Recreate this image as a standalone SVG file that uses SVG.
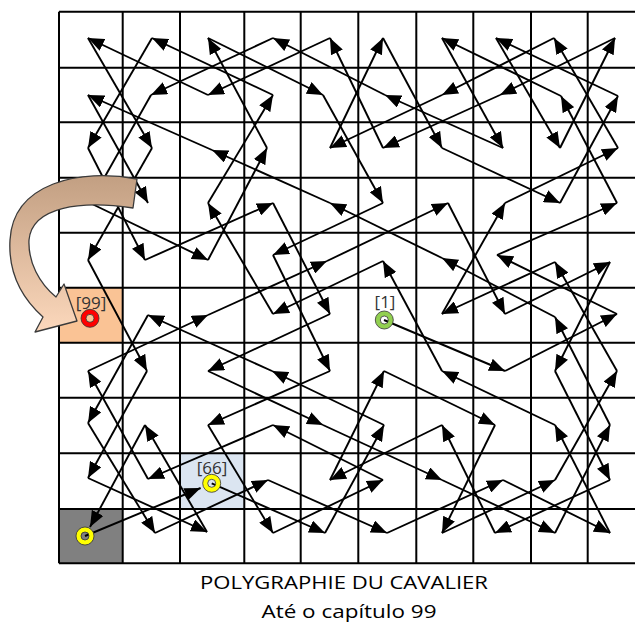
<svg xmlns="http://www.w3.org/2000/svg" width="635" height="625" viewBox="0 0 635 625">
<style>
.g{stroke:#000;stroke-width:2;fill:none}
.a{stroke:#000;stroke-width:1.9;fill:none;marker-end:url(#ah)}
.ring{stroke:#333;stroke-width:0.8;fill-rule:evenodd}
.lbl{font-family:"Open Sans","Liberation Sans",sans-serif;font-size:17px;fill:#333;text-anchor:middle}
.ttl{font-family:"Open Sans","Liberation Sans",sans-serif;font-size:19px;fill:#000;text-anchor:middle}
</style>
<defs>
<marker id="ah" viewBox="0 0 16 13" markerWidth="16" markerHeight="13" refX="16" refY="6.5" orient="auto" markerUnits="userSpaceOnUse">
<path d="M0,0 L16,6.5 L0,13 z" fill="#000"/>
</marker>
<linearGradient id="bg" gradientUnits="userSpaceOnUse" x1="0" y1="178" x2="0" y2="335">
<stop offset="0" stop-color="#c3a083"/>
<stop offset="1" stop-color="#fdd9bd"/>
</linearGradient>
</defs>
<rect width="635" height="625" fill="#fff"/>
<g id="cells">
<rect x="59" y="287.7" width="63.7" height="55" fill="#fac395"/>
<rect x="180" y="453.3" width="64.3" height="55.7" fill="#dbe5f1"/>
<rect x="59" y="509" width="63.7" height="54.3" fill="#808080"/>
</g>
<g id="grid" class="g">
<path d="M59,11.7V563.3M122.7,11.7V563.3M180,11.7V563.3M244.3,11.7V563.3M300.7,11.7V563.3M358.3,11.7V563.3M416.3,11.7V563.3M473.3,11.7V563.3M531,11.7V563.3M587.7,11.7V563.3"/>
<path d="M59,11.7H635M59,67.7H635M59,122.3H635M59,177.7H635M59,232.7H635M59,287.7H635M59,342.7H635M59,397.7H635M59,453.3H635M59,509H635M59,563.3H635"/>
</g>
<g id="connectors">
<line class="a" x1="384" y1="320" x2="505" y2="371"/>
<line class="a" x1="505" y1="371" x2="617" y2="314"/>
<line class="a" x1="617" y1="314" x2="497" y2="255"/>
<line class="a" x1="497" y1="255" x2="617" y2="203"/>
<line class="a" x1="617" y1="203" x2="561" y2="96"/>
<line class="a" x1="561" y1="96" x2="442" y2="38"/>
<line class="a" x1="442" y1="38" x2="503" y2="148"/>
<line class="a" x1="503" y1="148" x2="385" y2="95"/>
<line class="a" x1="385" y1="95" x2="273" y2="38"/>
<line class="a" x1="273" y1="38" x2="151" y2="95"/>
<line class="a" x1="151" y1="95" x2="90" y2="203"/>
<line class="a" x1="90" y1="203" x2="208" y2="260"/>
<line class="a" x1="208" y1="260" x2="267" y2="148"/>
<line class="a" x1="267" y1="148" x2="208" y2="38"/>
<line class="a" x1="208" y1="38" x2="323" y2="95"/>
<line class="a" x1="323" y1="95" x2="383" y2="203"/>
<line class="a" x1="383" y1="203" x2="273" y2="255"/>
<line class="a" x1="273" y1="255" x2="330" y2="371"/>
<line class="a" x1="330" y1="371" x2="208" y2="425"/>
<line class="a" x1="208" y1="425" x2="273" y2="533"/>
<line class="a" x1="273" y1="533" x2="383" y2="480"/>
<line class="a" x1="383" y1="480" x2="273" y2="425"/>
<line class="a" x1="273" y1="425" x2="148" y2="479"/>
<line class="a" x1="148" y1="479" x2="88" y2="371"/>
<line class="a" x1="88" y1="371" x2="208" y2="315"/>
<line class="a" x1="208" y1="315" x2="327" y2="261"/>
<line class="a" x1="327" y1="261" x2="448" y2="203"/>
<line class="a" x1="448" y1="203" x2="505" y2="314"/>
<line class="a" x1="505" y1="314" x2="610" y2="262"/>
<line class="a" x1="610" y1="262" x2="555" y2="371"/>
<line class="a" x1="555" y1="371" x2="610" y2="480"/>
<line class="a" x1="610" y1="480" x2="495" y2="533"/>
<line class="a" x1="495" y1="533" x2="442" y2="425"/>
<line class="a" x1="442" y1="425" x2="330" y2="480"/>
<line class="a" x1="330" y1="480" x2="384" y2="371"/>
<line class="a" x1="384" y1="371" x2="495" y2="425"/>
<line class="a" x1="495" y1="425" x2="442" y2="533"/>
<line class="a" x1="442" y1="533" x2="555" y2="480"/>
<line class="a" x1="555" y1="480" x2="617" y2="371"/>
<line class="a" x1="617" y1="371" x2="555" y2="262"/>
<line class="a" x1="555" y1="262" x2="442" y2="314"/>
<line class="a" x1="442" y1="314" x2="505" y2="203"/>
<line class="a" x1="505" y1="203" x2="618" y2="148"/>
<line class="a" x1="618" y1="148" x2="554" y2="38"/>
<line class="a" x1="554" y1="38" x2="442" y2="95"/>
<line class="a" x1="442" y1="95" x2="330" y2="148"/>
<line class="a" x1="330" y1="148" x2="383" y2="38"/>
<line class="a" x1="383" y1="38" x2="442" y2="148"/>
<line class="a" x1="442" y1="148" x2="560" y2="203"/>
<line class="a" x1="560" y1="203" x2="618" y2="96"/>
<line class="a" x1="618" y1="96" x2="496" y2="38"/>
<line class="a" x1="496" y1="38" x2="560" y2="148"/>
<line class="a" x1="560" y1="148" x2="615" y2="38"/>
<line class="a" x1="615" y1="38" x2="500" y2="95"/>
<line class="a" x1="500" y1="95" x2="383" y2="148"/>
<line class="a" x1="383" y1="148" x2="330" y2="38"/>
<line class="a" x1="330" y1="38" x2="208" y2="95"/>
<line class="a" x1="208" y1="95" x2="88" y2="38"/>
<line class="a" x1="88" y1="38" x2="152" y2="148"/>
<line class="a" x1="152" y1="148" x2="88" y2="260"/>
<line class="a" x1="88" y1="260" x2="147" y2="371"/>
<line class="a" x1="147" y1="371" x2="88" y2="478"/>
<line class="a" x1="88" y1="478" x2="207" y2="532"/>
<line class="a" x1="207" y1="532" x2="145" y2="425"/>
<line class="a" x1="145" y1="425" x2="90" y2="527"/>
<line class="a" x1="85" y1="536" x2="200.6" y2="488"/>
<line class="a" x1="211.7" y1="483.3" x2="325" y2="533"/>
<line class="a" x1="325" y1="533" x2="384" y2="425"/>
<line class="a" x1="384" y1="425" x2="272" y2="371"/>
<line class="a" x1="272" y1="371" x2="148" y2="315"/>
<line class="a" x1="148" y1="315" x2="88" y2="423"/>
<line class="a" x1="88" y1="423" x2="155" y2="533"/>
<line class="a" x1="155" y1="533" x2="268" y2="480"/>
<line class="a" x1="268" y1="480" x2="387" y2="533"/>
<line class="a" x1="387" y1="533" x2="503" y2="480"/>
<line class="a" x1="503" y1="480" x2="610" y2="533"/>
<line class="a" x1="610" y1="533" x2="555" y2="425"/>
<line class="a" x1="555" y1="425" x2="442" y2="371"/>
<line class="a" x1="442" y1="371" x2="383" y2="261"/>
<line class="a" x1="383" y1="261" x2="273" y2="314"/>
<line class="a" x1="273" y1="314" x2="208" y2="203"/>
<line class="a" x1="208" y1="203" x2="273" y2="95"/>
<line class="a" x1="273" y1="95" x2="152" y2="38"/>
<line class="a" x1="152" y1="38" x2="88" y2="148"/>
<line class="a" x1="88" y1="148" x2="145" y2="260"/>
<line class="a" x1="145" y1="260" x2="273" y2="203"/>
<line class="a" x1="273" y1="203" x2="330" y2="314"/>
<line class="a" x1="330" y1="314" x2="208" y2="371"/>
<line class="a" x1="208" y1="371" x2="323" y2="425"/>
<line class="a" x1="323" y1="425" x2="442" y2="480"/>
<line class="a" x1="442" y1="480" x2="555" y2="533"/>
<line class="a" x1="555" y1="533" x2="610" y2="425"/>
<line class="a" x1="610" y1="425" x2="555" y2="317"/>
<line class="a" x1="555" y1="317" x2="442" y2="258"/>
<line class="a" x1="442" y1="258" x2="330" y2="203"/>
<line class="a" x1="330" y1="203" x2="212" y2="150"/>
<line class="a" x1="212" y1="150" x2="88" y2="95"/>
<line class="a" x1="88" y1="95" x2="148" y2="203"/>
</g>
<g id="curved-arrow">
<path d="M137,179 C80,168 13,183 10,240 C8,275 24,300 43,317 L35,332 L77,321 L64,284 L56,297 C39,283 28,262 29,240 C32,207 80,200 133,208 Z" fill="url(#bg)" stroke="#3a3a3a" stroke-width="1.3" stroke-linejoin="round"/>
</g>
<g id="n99">
<path class="ring" d="M81,318.3a9,9 0 1,0 18,0a9,9 0 1,0 -18,0zM86,318.3a4,4 0 1,0 8,0a4,4 0 1,0 -8,0z" fill="#ff0000"/>
<text class="lbl" x="91" y="309">[99]</text>
</g>
<g id="n1">
<path class="ring" d="M375.3,320a9,9 0 1,0 18,0a9,9 0 1,0 -18,0zM380.3,320a4,4 0 1,0 8,0a4,4 0 1,0 -8,0z" fill="#92d050"/>
<text class="lbl" x="385" y="308">[1]</text>
</g>
<g id="n66">
<path class="ring" d="M202.7,483.3a9,9 0 1,0 18,0a9,9 0 1,0 -18,0zM207.7,483.3a4,4 0 1,0 8,0a4,4 0 1,0 -8,0z" fill="#ffff00"/>
<text class="lbl" x="212" y="474">[66]</text>
</g>
<g id="n-gray">
<path class="ring" d="M76,536a9,9 0 1,0 18,0a9,9 0 1,0 -18,0zM81,536a4,4 0 1,0 8,0a4,4 0 1,0 -8,0z" fill="#ffff00"/>
</g>
<g id="title">
<text class="ttl" x="344" y="589" textLength="288" lengthAdjust="spacingAndGlyphs">POLYGRAPHIE DU CAVALIER</text>
<text class="ttl" x="349" y="618" textLength="175" lengthAdjust="spacingAndGlyphs">Até o capítulo 99</text>
</g>
</svg>
